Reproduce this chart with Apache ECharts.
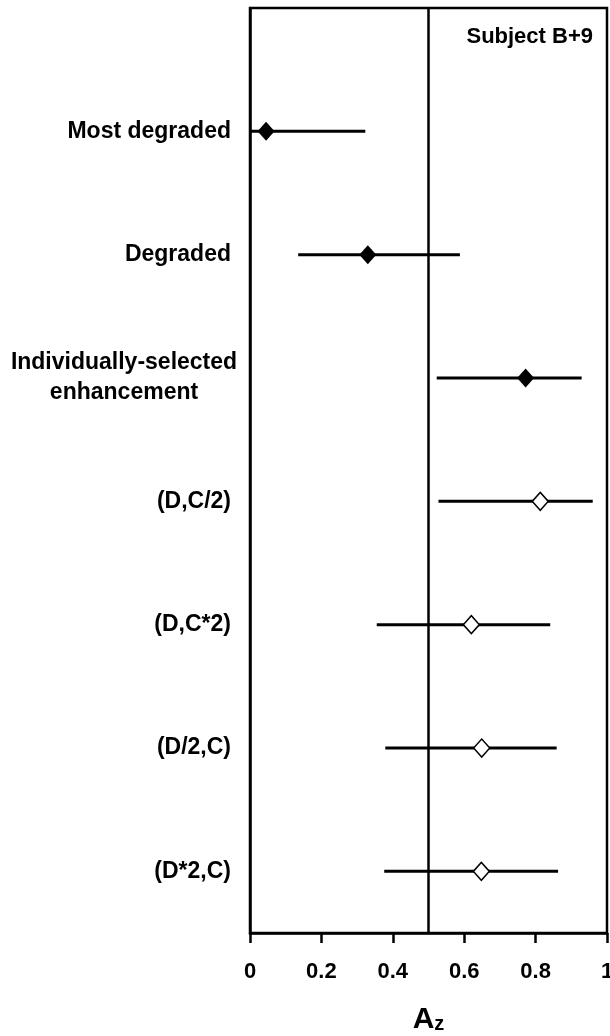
<!DOCTYPE html>
<html>
<head>
<meta charset="utf-8">
<script src="https://cdn.jsdelivr.net/npm/echarts@6/dist/echarts.min.js"></script>
<style>html,body{margin:0;padding:0;background:#fff}#c{width:610px;height:1036px}</style>
</head>
<body>
<div id="c"></div>
<script>
const categories = ['Most degraded', 'Degraded', 'Individually-selected\nenhancement', '(D,C/2)', '(D,C*2)', '(D/2,C)', '(D*2,C)'];
const azValues = [0.045, 0.33, 0.772, 0.813, 0.62, 0.649, 0.648];
const lowerCI = [0, 0.135, 0.523, 0.528, 0.355, 0.379, 0.376];
const upperCI = [0.323, 0.588, 0.929, 0.96, 0.841, 0.859, 0.863];
const filledCount = 3;
const referenceLine = 0.5;
const xTicks = [0, 0.2, 0.4, 0.6, 0.8, 1];
const subjectLabel = 'Subject B+9';

const FONT = '"Liberation Sans", Arial, sans-serif';
const chart = echarts.init(document.getElementById('c'), null, {renderer: 'canvas'});

const barData = categories.map((c, i) => [i + 1, lowerCI[i], upperCI[i]]);
const filledPts = [], hollowPts = [];
categories.forEach((c, i) => {
  (i < filledCount ? filledPts : hollowPts).push([azValues[i], i + 1]);
});

chart.setOption({
  animation: false,
  backgroundColor: '#fff',
  title: {
    text: subjectLabel,
    right: 12, top: 21,
    textStyle: {fontFamily: FONT, fontWeight: 'bold', fontSize: 22, color: '#000'}
  },
  grid: {left: 250, right: 3, top: 8, bottom: 103, show: true, borderColor: '#000', borderWidth: 2.5, containLabel: false, outerBoundsMode: 'none'},
  xAxis: {
    type: 'value', min: 0, max: 1, interval: 0.2,
    axisLine: {show: true, onZero: false, lineStyle: {color: '#000', width: 2.5}},
    axisTick: {show: true, inside: false, length: 10, lineStyle: {color: '#000', width: 2.5}},
    splitLine: {show: false},
    axisLabel: {
      margin: 28, color: '#000', fontFamily: FONT, fontWeight: 'bold', fontSize: 22,
      formatter: v => { const t = xTicks.find(x => Math.abs(x - v) < 1e-9); return t === undefined ? '' : String(t); }
    },
    name: '{a|A}{s|z}', nameLocation: 'middle', nameGap: 72,
    nameTextStyle: {
      rich: {
        a: {fontFamily: FONT, fontWeight: 'bold', fontSize: 30, color: '#000', verticalAlign: 'bottom'},
        s: {fontFamily: FONT, fontWeight: 'bold', fontSize: 20, color: '#000', verticalAlign: 'bottom', padding: [0, 0, 1, 0]}
      }
    }
  },
  yAxis: {
    type: 'value', min: 0, max: 7.5, interval: 1, inverse: true,
    axisLine: {show: true, onZero: false, lineStyle: {color: '#000', width: 2.5}},
    axisTick: {show: false},
    splitLine: {show: false},
    axisLabel: {
      margin: 12, color: '#000', fontFamily: FONT, fontWeight: 'bold', fontSize: 23,
      formatter: v => {
        if (Math.abs(v - Math.round(v)) > 1e-9) return '';
        const name = categories[Math.round(v) - 1];
        if (!name) return '';
        if (name.indexOf('\n') >= 0) return name.split('\n').map(s => '{c|' + s + '}').join('\n');
        return '{n|' + name + '}';
      },
      rich: {
        n: {fontFamily: FONT, fontWeight: 'bold', fontSize: 23, color: '#000', padding: [0, 7, 0, 0]},
        c: {fontFamily: FONT, fontWeight: 'bold', fontSize: 23, color: '#000', width: 228, align: 'center', lineHeight: 30}
      }
    }
  },
  series: [
    {
      type: 'custom',
      data: barData,
      encode: {x: [1, 2], y: 0},
      renderItem: (params, api) => {
        const y = api.value(0);
        const p1 = api.coord([api.value(1), y]);
        const p2 = api.coord([api.value(2), y]);
        return {type: 'line', shape: {x1: p1[0], y1: p1[1], x2: p2[0], y2: p2[1]}, style: {stroke: '#000', lineWidth: 3}};
      },
      z: 2
    },
    {
      type: 'scatter', data: [], silent: true,
      markLine: {
        silent: true, symbol: 'none', label: {show: false},
        lineStyle: {color: '#000', width: 2.5, type: 'solid'},
        data: [{xAxis: referenceLine}]
      }
    },
    {
      type: 'scatter', data: filledPts, symbol: 'diamond', symbolSize: [17, 19],
      itemStyle: {color: '#000', borderColor: '#000', borderWidth: 0, opacity: 1}, z: 5
    },
    {
      type: 'scatter', data: hollowPts, symbol: 'diamond', symbolSize: [16, 18],
      itemStyle: {color: '#fff', borderColor: '#000', borderWidth: 1.5, opacity: 1}, z: 5
    }
  ]
});
</script>
</body>
</html>
